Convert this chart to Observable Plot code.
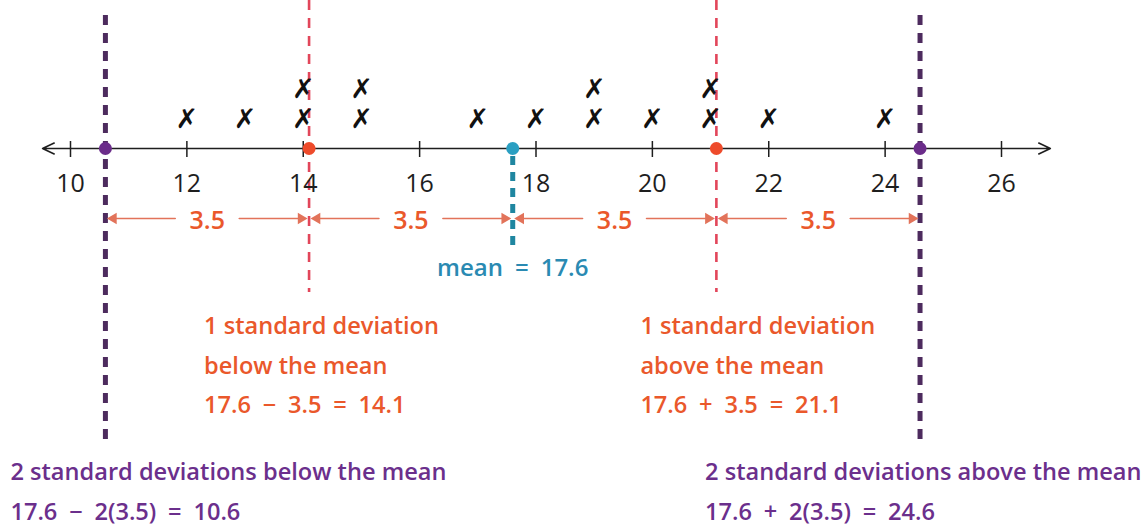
<!DOCTYPE html>
<html>
<head>
<meta charset="utf-8">
<script src="https://cdn.jsdelivr.net/npm/d3@7"></script>
<script src="https://cdn.jsdelivr.net/npm/@observablehq/plot@0.6"></script>
<style>
  html, body { margin: 0; padding: 0; background: #fff; }
  svg { display: block; }
</style>
</head>
<body>
<div id="chart"></div>
<script>
// ---- data ----
const values = [12, 13, 14, 14, 15, 15, 17, 18, 19, 19, 20, 21, 21, 22, 24];
const tickValues = [10, 12, 14, 16, 18, 20, 22, 24, 26];
const mean = 17.6;
const sd = 3.5;
const markerValues = [10.6, 14.1, 17.6, 21.1, 24.6];
const markerKinds = ["two", "one", "mean", "one", "two"];
const gapLabels = ["3.5", "3.5", "3.5", "3.5"];
const meanLabel = "mean\u2002=\u200217.6";
const oneBelowLines = ["1 standard deviation", "below the mean", "17.6\u2002\u2212\u20023.5\u2002=\u200214.1"];
const oneAboveLines = ["1 standard deviation", "above the mean", "17.6\u2002+\u20023.5\u2002=\u200221.1"];
const twoBelowLines = ["2 standard deviations below the mean", "17.6\u2002\u2212\u20022(3.5)\u2002=\u200210.6"];
const twoAboveLines = ["2 standard deviations above the mean", "17.6\u2002+\u20022(3.5)\u2002=\u200224.6"];
const axisEnds = [9.52, 26.84];

// ---- styles ----
const FONT = "Open Sans, Noto Sans, sans-serif";
const C = {
  purpleLine: "#4d2b5e", purpleDot: "#6b2c8a", purpleText: "#6b2f8c",
  redLine: "#e2465a", redDot: "#ee4b2b", redText: "#ea582b",
  tealLine: "#1f86a0", tealDot: "#2a9fc2", tealText: "#2a8ab2",
  arrow: "#e2735a", ink: "#1e1e1e"
};
const dotColor = {two: C.purpleDot, one: C.redDot, mean: C.tealDot};

// ---- derived tables ----
const counts = {};
const crosses = values.map(v => {
  const level = counts[v] || 0;
  counts[v] = level + 1;
  return {v, level};
});
const markers = markerValues.map((v, i) => ({v, kind: markerKinds[i]}));
const segments = gapLabels.map((label, i) => {
  const a = markerValues[i], b = markerValues[i + 1];
  return {a, b, mid: (a + b) / 2, label};
});
const AXIS_Y = 148;
const ARROW_Y = 218;

const block = (lines, anchor, dx, y0, step, fill) =>
  Plot.text(lines.map((t, i) => ({t, y: y0 + i * step})), {
    x: () => anchor, y: "y", dx, text: "t", fill, textAnchor: "start",
    fontSize: 23.6, fontWeight: 600, fontFamily: FONT
  });

const chart = Plot.plot({
  width: 1146,
  height: 527,
  marginTop: 0, marginRight: 0, marginBottom: 0, marginLeft: 0,
  style: {fontFamily: FONT, background: "#fff", overflow: "visible"},
  x: {domain: [10, 26], range: [70, 1001], axis: null},
  y: {domain: [0, 527], range: [0, 527], axis: null},
  marks: [
    // dashed reference lines
    Plot.ruleX([markerValues[0], markerValues[4]], {x: d => d, y1: 15, y2: 442, stroke: C.purpleLine, strokeWidth: 5, strokeDasharray: "10,8"}),
    Plot.ruleX([markerValues[1], markerValues[3]], {x: d => d, y1: 0, y2: 292, stroke: C.redLine, strokeWidth: 2.6, strokeDasharray: "10,8"}),
    Plot.ruleX([mean], {x: d => d, y1: 156, y2: 252, stroke: C.tealLine, strokeWidth: 5, strokeDasharray: "9,7"}),
    // number line
    Plot.arrow([axisEnds[0], axisEnds[1]], {x1: 18, x2: d => d, y1: AXIS_Y, y2: AXIS_Y, stroke: C.ink, strokeWidth: 1.6, headLength: 12, headAngle: 50}),
    Plot.ruleX(tickValues, {x: d => d, y1: 141, y2: 157, stroke: C.ink, strokeWidth: 1.5}),
    Plot.text(tickValues, {x: d => d, y: 183, text: d => String(d), fontSize: 25, fill: C.ink, fontFamily: FONT}),
    // data crosses
    Plot.text(crosses, {x: "v", y: d => 119 - 30 * d.level, text: () => "\u2717", fontSize: 27, fill: "#111", fontFamily: "DejaVu Sans", fontWeight: "bold"}),
    // marker dots
    Plot.dot(markers, {x: "v", y: AXIS_Y, r: 6.5, fill: d => dotColor[d.kind], stroke: "none"}),
    // 3.5 gap arrows (shafts + filled heads)
    Plot.arrow(segments, {x1: "mid", x2: "a", y1: ARROW_Y, y2: ARROW_Y, insetStart: 32, insetEnd: 6, stroke: C.arrow, strokeWidth: 1.6, headLength: 0}),
    Plot.arrow(segments, {x1: "mid", x2: "b", y1: ARROW_Y, y2: ARROW_Y, insetStart: 32, insetEnd: 6, stroke: C.arrow, strokeWidth: 1.6, headLength: 0}),
    Plot.dot(segments, {x: "a", y: ARROW_Y, dx: 8, symbol: "triangle", rotate: -90, r: 4.2, fill: C.arrow, stroke: "none"}),
    Plot.dot(segments, {x: "b", y: ARROW_Y, dx: -8, symbol: "triangle", rotate: 90, r: 4.2, fill: C.arrow, stroke: "none"}),
    Plot.text(segments, {x: "mid", y: 220, text: "label", fontSize: 25, fontWeight: 600, fill: C.redText, fontFamily: FONT}),
    // mean label
    Plot.text([mean], {x: d => d, y: 268, text: () => meanLabel, fontSize: 24, fontWeight: 600, fill: C.tealText, fontFamily: FONT}),
    // explanation text blocks
    block(oneBelowLines, markerValues[1], -105, 326, 39.5, C.redText),
    block(oneAboveLines, markerValues[3], -76, 326, 39.5, C.redText),
    block(twoBelowLines, markerValues[0], -95, 472, 40, C.purpleText),
    block(twoAboveLines, markerValues[4], -215, 472, 40, C.purpleText)
  ]
});
document.getElementById("chart").appendChild(chart);
</script>
</body>
</html>
